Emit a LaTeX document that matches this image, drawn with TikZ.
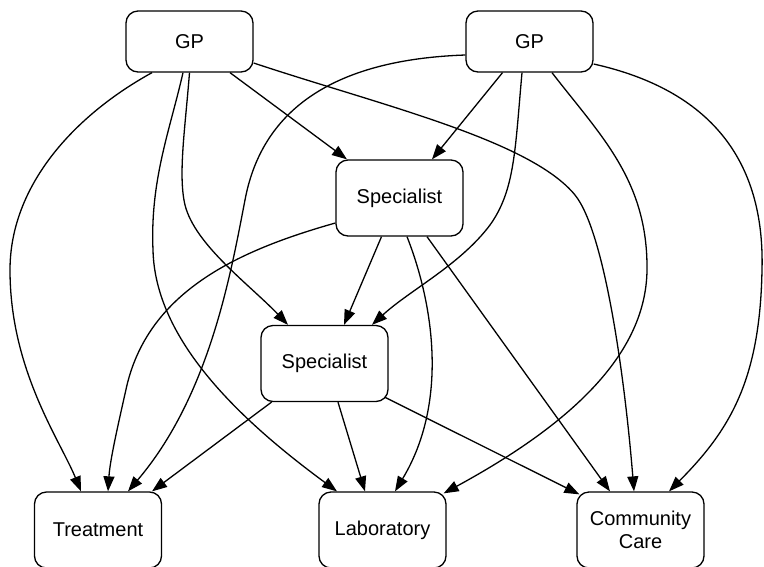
\documentclass[tikz,border=0pt]{standalone}
\usepackage{fontspec}
\setmainfont{Liberation Sans}
\usetikzlibrary{arrows.meta,calc}
\begin{document}
\begin{tikzpicture}[x=1pt,y=-1pt,
  box/.style={draw, line width=1.3pt, rounded corners=12pt, minimum width=127pt, inner sep=0pt, align=center, font=\fontsize{20}{23}\selectfont},
  gpbox/.style={box, minimum height=61pt},
  midbox/.style={box, minimum height=76pt},
  endbox/.style={box, minimum height=76pt},
  link/.style={line width=1.3pt, -{Triangle[length=15pt,width=11pt]}}]
\useasboundingbox (0,0) rectangle (764,566);
\node[gpbox] (gp1) at (189.5,41.5) {GP};
\node[gpbox] (gp2) at (529.5,41.5) {GP};
\node[midbox] (sp1) at (399.5,198) {Specialist};
\node[midbox] (sp2) at (324.5,363.5) {Specialist};
\node[endbox] (treat) at (98,530) {Treatment};
\node[endbox] (lab) at (382.5,530) {Laboratory};
\node[endbox] (comm) at (640.5,530) {Community\\Care};
% from GP 1
\draw[link] ($(gp1.south)+(-37.5,0)$) .. controls (75,115) and (10,185) .. (10,270) .. controls (10,370) and (60,440) .. ($(treat.north)+(-17,0)$);
\draw[link] ($(gp1.south)+(-6.5,0)$) .. controls (170,130) and (150,180) .. (153,250) .. controls (155,340) and (240,420) .. ($(lab.north)+(-45.5,0)$);
\draw[link] (gp1.south) .. controls (185,130) and (178,175) .. (185,205) .. controls (195,245) and (250,285) .. ($(sp2.north)+(-36.5,0)$);
\draw[link] ($(gp1.south)+(40.5,0)$) -- ($(sp1.north)+(-52.5,0)$);
\draw[link] ($(gp1.east)+(0,21.5)$) .. controls (380,105) and (530,140) .. (575,195) .. controls (605,232) and (625,380) .. ($(comm.north)+(-6.5,0)$);
% from GP 2
\draw[link] ($(gp2.west)+(0,13.5)$) .. controls (320,60) and (260,120) .. (245,200) .. controls (231,272) and (210,395) .. ($(treat.north)+(30,0)$);
\draw[link] ($(gp2.south)+(-27,0)$) -- ($(sp1.north)+(32.5,0)$);
\draw[link] ($(gp2.south)+(-7.5,0)$) .. controls (515,150) and (515,190) .. (490,225) .. controls (460,265) and (410,290) .. ($(sp2.north)+(47.5,0)$);
\draw[link] ($(gp2.south)+(22.5,0)$) .. controls (600,135) and (648,180) .. (647,270) .. controls (646,360) and (560,430) .. ($(lab.north east)+(-3,2)$);
\draw[link] ($(gp2.east)+(0,22.5)$) .. controls (710,90) and (765,160) .. (762,270) .. controls (760,380) and (730,430) .. ($(comm.north)+(28.5,0)$);
% from Specialist 1
\draw[link] ($(sp1.west)+(0,25)$) .. controls (240,250) and (150,290) .. (127,385) .. controls (118,425) and (110,460) .. ($(treat.north)+(10,0)$);
\draw[link] ($(sp1.south)+(-18,0)$) -- ($(sp2.north)+(19.5,0)$);
\draw[link] ($(sp1.south)+(7.5,0)$) .. controls (432,300) and (450,400) .. ($(lab.north)+(12.5,0)$);
\draw[link] ($(sp1.south)+(27.5,0)$) -- ($(comm.north)+(-30.5,0)$);
% from Specialist 2
\draw[link] ($(sp2.south)+(-53,0)$) -- ($(treat.north)+(54,0)$);
\draw[link] ($(sp2.south)+(13.5,0)$) -- ($(lab.north)+(-17.5,0)$);
\draw[link] ($(sp2.south east)+(-4,-5)$) -- ($(comm.north west)+(3,3)$);
\end{tikzpicture}
\end{document}
